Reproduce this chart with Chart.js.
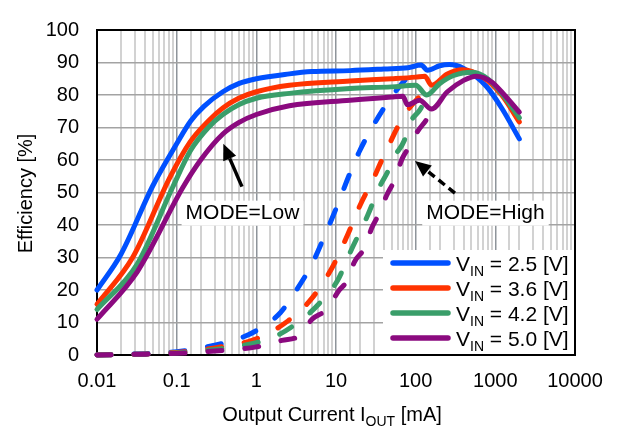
<!DOCTYPE html>
<html>
<head>
<meta charset="utf-8">
<script src="https://cdn.jsdelivr.net/npm/chart.js@4.4.0/dist/chart.umd.min.js"></script>
<style>
  html, body { margin: 0; padding: 0; background: #fff; }
  #wrap { width: 617px; height: 427px; }
</style>
</head>
<body>
<div id="wrap"><canvas id="chart" width="617" height="427"></canvas></div>
<script>
// input voltages (legend) and colours
const vinLabels = ['2.5', '3.6', '4.2', '5.0'];
const colors = ['#0050ff', '#ff3300', '#3a9e6a', '#8b0a7f'];

// MODE=Low (solid) curves, Iout in mA / efficiency in %
const lowX25 = [0.01, 0.02, 0.05, 0.1, 0.15, 0.22, 0.38, 0.6, 1, 2.6, 5, 15, 40, 80, 117, 141, 200, 265, 400, 775, 1200, 2000];
const lowY25 = [20, 31, 52, 65, 72, 76.5, 81, 83.5, 85, 86.5, 87.2, 87.5, 88, 88.4, 89.2, 87.6, 89, 89.4, 88.2, 82.6, 76, 66.5];
const lowX36 = [0.01, 0.028, 0.082, 0.147, 0.25, 0.38, 0.6, 1, 2.6, 15, 50, 100, 130, 158, 250, 390, 700, 1200, 2000];
const lowY36 = [15.6, 30, 54.6, 65.5, 72, 76, 79, 81, 83, 84.3, 85, 85.5, 85.8, 83, 86.5, 87.8, 85.5, 80, 71.7];
const lowX42 = [0.01, 0.032, 0.089, 0.15, 0.25, 0.38, 0.6, 1, 2.6, 15, 50, 100, 138, 200, 300, 516, 800, 1200, 2000];
const lowY42 = [14, 28, 51.6, 63, 70, 74, 77, 79, 80.5, 82, 82.5, 83, 80, 83.5, 86, 87, 85, 80.5, 73];
const lowX50 = [0.01, 0.032, 0.12, 0.2, 0.38, 0.6, 1, 2.6, 15, 50, 69, 79, 112, 158, 250, 400, 575, 900, 1300, 2000];
const lowY50 = [11, 25.6, 51.6, 60, 68, 71.5, 74, 76.7, 78.4, 79.4, 79.6, 77, 78.4, 75.7, 81, 84.5, 85.8, 84, 80, 74.7];

// MODE=High (dashed) curves
const highX25 = [0.01, 0.03, 0.1, 0.3, 0.6, 1, 2, 3, 5, 7, 10, 15, 20, 30, 50, 70, 100];
const highY25 = [0, 0.3, 1, 3, 5, 7.5, 13, 19, 28, 36, 45, 56, 63, 71, 79.5, 84, 88];
const highX36 = [0.01, 0.03, 0.1, 0.3, 1, 2.5, 5, 9, 14, 20, 30, 37, 45, 59, 76, 105, 158];
const highY36 = [0, 0.2, 0.8, 2.2, 5, 10.5, 17.5, 27, 37, 46, 54.6, 59.6, 64, 70, 74.6, 78.8, 83];
const highX42 = [0.01, 0.03, 0.1, 0.3, 1, 2, 4.7, 6.8, 10.5, 15, 25, 35, 45, 54, 72, 83, 117, 138];
const highY42 = [0, 0.2, 0.6, 1.7, 3.8, 6.5, 13, 17, 23, 31.5, 43, 51.6, 56.6, 61, 66, 71, 76, 80];
const highX50 = [0.01, 0.03, 0.1, 0.3, 1, 2.1, 3.5, 5, 7.6, 11, 14, 17, 23, 28, 35, 43, 54, 68, 83, 105, 141, 158];
const highY50 = [0, 0.2, 0.5, 1.2, 2.5, 4.5, 6, 11, 14, 20, 23, 28.6, 33, 39, 43.6, 49, 53.7, 60.5, 64, 68.7, 73, 75.7];

const FONT = "'Liberation Sans', Arial, sans-serif";

const pts = (xs, ys) => xs.map((x, i) => ({ x: x, y: ys[i] }));
const lowSeries = [[lowX25, lowY25], [lowX36, lowY36], [lowX42, lowY42], [lowX50, lowY50]];
const highSeries = [[highX25, highY25], [highX36, highY36], [highX42, highY42], [highX50, highY50]];

const datasets = [];
lowSeries.forEach((s, i) => {
    datasets.push({
        label: 'VIN = ' + vinLabels[i] + ' [V]',
        data: pts(s[0], s[1]),
        borderColor: colors[i],
        borderWidth: 5,
        borderCapStyle: 'round',
        pointRadius: 0,
        cubicInterpolationMode: 'monotone',
        clip: false,
        order: 4 - i
    });
});
highSeries.forEach((s, i) => {
    datasets.push({
        label: 'VIN = ' + vinLabels[i] + ' [V] high',
        data: pts(s[0], s[1]),
        borderColor: colors[i],
        borderWidth: 5,
        borderDash: [14, 23],
        borderCapStyle: 'round',
        pointRadius: 0,
        cubicInterpolationMode: 'monotone',
        clip: false,
        order: 4 - i
    });
});

function isDecade(v) {
    const l = Math.log10(v);
    return Math.abs(l - Math.round(l)) < 1e-9;
}

function drawArrow(ctx, x1, y1, x2, y2, dashed) {
    const ang = Math.atan2(y2 - y1, x2 - x1);
    const head = 16, half = 7;
    const bx = x2 - head * Math.cos(ang), by = y2 - head * Math.sin(ang);
    ctx.save();
    ctx.strokeStyle = '#000';
    ctx.fillStyle = '#000';
    ctx.lineWidth = 3.5;
    if (dashed) ctx.setLineDash([8, 5]);
    ctx.beginPath();
    ctx.moveTo(x1, y1);
    ctx.lineTo(bx, by);
    ctx.stroke();
    ctx.setLineDash([]);
    ctx.beginPath();
    ctx.moveTo(x2, y2);
    ctx.lineTo(bx + half * Math.sin(ang), by - half * Math.cos(ang));
    ctx.lineTo(bx - half * Math.sin(ang), by + half * Math.cos(ang));
    ctx.closePath();
    ctx.fill();
    ctx.restore();
}

// text with a subscript part: main, sub, rest
function subText(ctx, x, y, main, sub, rest, size, subSize, align) {
    ctx.font = size + 'px ' + FONT;
    const w1 = ctx.measureText(main).width;
    const w3 = ctx.measureText(rest).width;
    ctx.font = subSize + 'px ' + FONT;
    const w2 = ctx.measureText(sub).width;
    let sx = x;
    if (align === 'center') sx = x - (w1 + w2 + w3) / 2;
    ctx.textAlign = 'left';
    ctx.textBaseline = 'alphabetic';
    ctx.font = size + 'px ' + FONT;
    ctx.fillText(main, sx, y);
    ctx.font = subSize + 'px ' + FONT;
    ctx.fillText(sub, sx + w1, y + 5);
    ctx.font = size + 'px ' + FONT;
    ctx.fillText(rest, sx + w1 + w2, y);
}

const notes = [
    { text: 'MODE=Low', x: 0.67, y: 43.8 },
    { text: 'MODE=High', x: 752, y: 43.8 }
];
const arrows = [
    { from: [0.66, 51.8], to: [0.385, 65], dashed: false },
    { from: [311, 49.8], to: [98, 59.7], dashed: true }
];

const decorPlugin = {
    id: 'decor',
    beforeDatasetsDraw(chart) {
        const ctx = chart.ctx, a = chart.chartArea;
        const xs = chart.scales.x, ys = chart.scales.y;
        ctx.save();
        // white boxes behind annotation texts
        ctx.font = '21px ' + FONT;
        ctx.fillStyle = '#fff';
        notes.forEach(n => {
            const cx = xs.getPixelForValue(n.x), cy = ys.getPixelForValue(n.y);
            const w = ctx.measureText(n.text).width;
            ctx.fillRect(cx - w / 2 - 4, cy - 12, w + 8, 25);
        });
        // legend box
        ctx.fillRect(a.right - 192, a.bottom - 105, 192, 105);
        // frame
        ctx.strokeStyle = '#000';
        ctx.lineWidth = 2;
        ctx.strokeRect(a.left, a.top, a.right - a.left, a.bottom - a.top);
        ctx.restore();
    },
    afterDatasetsDraw(chart) {
        const ctx = chart.ctx, a = chart.chartArea;
        const xs = chart.scales.x, ys = chart.scales.y;
        ctx.save();
        ctx.fillStyle = '#000';
        ctx.font = '21px ' + FONT;
        ctx.textAlign = 'center';
        ctx.textBaseline = 'middle';
        notes.forEach(n => {
            ctx.fillText(n.text, xs.getPixelForValue(n.x), ys.getPixelForValue(n.y) + 1);
        });
        arrows.forEach(ar => {
            drawArrow(ctx,
                xs.getPixelForValue(ar.from[0]), ys.getPixelForValue(ar.from[1]),
                xs.getPixelForValue(ar.to[0]), ys.getPixelForValue(ar.to[1]), ar.dashed);
        });
        // legend entries
        const lx = a.right - 182, ly = a.bottom - 92;
        vinLabels.forEach((v, i) => {
            const y = ly + i * 25;
            ctx.strokeStyle = colors[i];
            ctx.lineWidth = 5.5;
            ctx.lineCap = 'round';
            ctx.beginPath();
            ctx.moveTo(lx, y);
            ctx.lineTo(lx + 55, y);
            ctx.stroke();
            ctx.fillStyle = '#000';
            subText(ctx, lx + 63, y + 8, 'V', 'IN', ' = ' + v + ' [V]', 21, 14, 'left');
        });
        // axis titles
        ctx.fillStyle = '#000';
        subText(ctx, (a.left + a.right) / 2 - 4, 421, 'Output Current I', 'OUT', ' [mA]', 20, 14, 'center');
        ctx.save();
        ctx.translate(32, (a.top + a.bottom) / 2 + 1);
        ctx.rotate(-Math.PI / 2);
        ctx.font = '20px ' + FONT;
        ctx.textAlign = 'center';
        ctx.textBaseline = 'alphabetic';
        ctx.fillText('Efficiency [%]', 0, 0);
        ctx.restore();
        ctx.restore();
    }
};

new Chart(document.getElementById('chart'), {
    type: 'line',
    data: { datasets: datasets },
    options: {
        responsive: false,
        animation: false,
        devicePixelRatio: 1,
        layout: { padding: { left: 0, top: 17, right: 42, bottom: 0 } },
        plugins: {
            legend: { display: false },
            tooltip: { enabled: false }
        },
        scales: {
            x: {
                type: 'logarithmic',
                min: 0.01,
                max: 10000,
                afterFit: (s) => { s.height = 72; },
                border: { display: false },
                grid: {
                    drawTicks: false,
                    color: (c) => (c.tick && isDecade(c.tick.value)) ? '#8e949a' : '#d2d2d2',
                    lineWidth: (c) => (c.tick && isDecade(c.tick.value)) ? 1.5 : 2
                },
                ticks: {
                    autoSkip: false,
                    maxRotation: 0,
                    padding: 14,
                    color: '#000',
                    font: { family: FONT, size: 20 },
                    callback: (v) => isDecade(v) ? String(+Number(v).toPrecision(3)) : ''
                }
            },
            y: {
                min: 0,
                max: 100,
                afterFit: (s) => { s.width = 97; },
                border: { display: false },
                grid: { drawTicks: false, color: '#a3a3a3', lineWidth: 1.5 },
                ticks: {
                    stepSize: 10,
                    padding: 18,
                    color: '#000',
                    font: { family: FONT, size: 20 }
                }
            }
        }
    },
    plugins: [decorPlugin]
});
</script>
</body>
</html>
